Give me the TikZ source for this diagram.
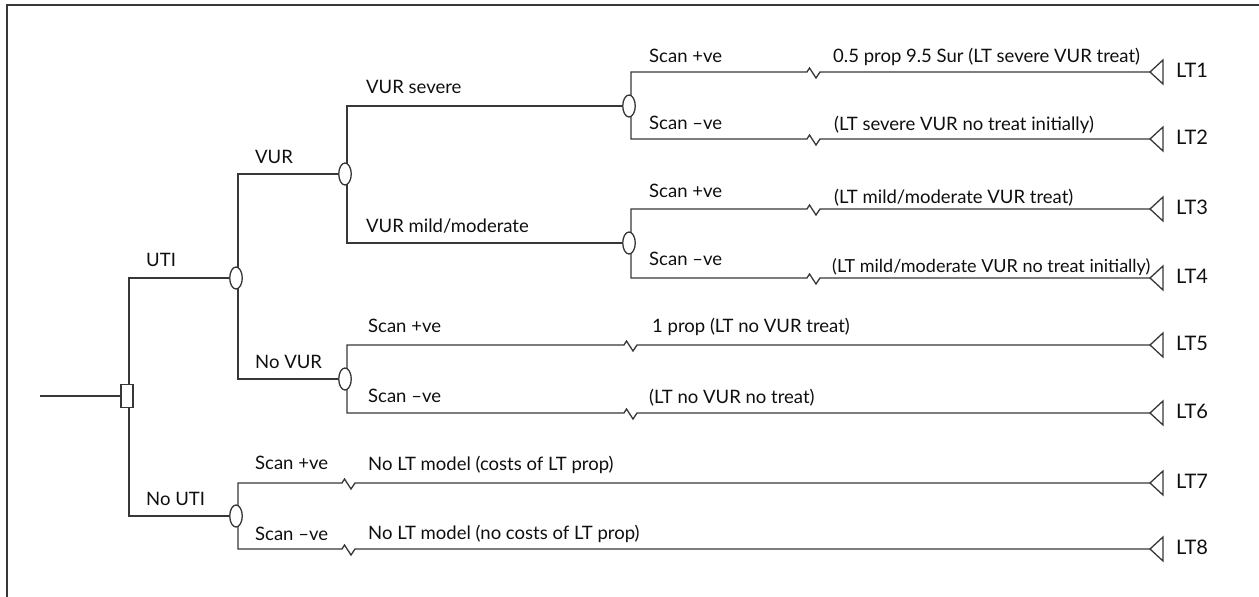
\documentclass[tikz,border=0pt]{standalone}
\usepackage{fontspec}
\setmainfont{Lato}
\usetikzlibrary{shapes.geometric}
\pgfdeclarelayer{bg}
\pgfsetlayers{bg,main}
\definecolor{linec}{RGB}{55,55,55}
\definecolor{txtc}{RGB}{15,15,15}
\begin{document}
\begin{tikzpicture}[x=1pt,y=-1pt,
  ln/.style={draw=linec, line width=1.3pt},
  chance/.style={ellipse, draw=linec, fill=white, line width=1.3pt, minimum width=12.5pt, minimum height=22pt, inner sep=0pt},
  decision/.style={rectangle, draw=linec, fill=white, line width=1.3pt, minimum width=12pt, minimum height=23pt, inner sep=0pt},
  lbl/.style={anchor=base west, inner sep=0pt, font=\fontsize{18.5}{20}\selectfont, text=txtc},
  ltl/.style={anchor=west, inner sep=0pt, font=\fontsize{20}{22}\selectfont, text=txtc},
  zz/.style={insert path={-- ++(2.5,-4) -- ++(6.5,10) -- ++(4,-6)}},
  term/.pic={\draw[ln] (0,0) -- (13,-12) -- (13,12) -- cycle;}
]
\useasboundingbox (0,0) rectangle (1259,597);
\draw[linec, line width=1.3pt] (7,597) -- (7,5) -- (1259,5);

% nodes
\coordinate (R) at (40,396);
\node[decision] (D) at (127,396) {};
\node[chance] (Cuti) at (236,278) {};
\node[chance] (Cnouti) at (236,516) {};
\node[chance] (Cvur) at (345,174) {};
\node[chance] (Cnovur) at (345,379) {};
\node[chance] (Csev) at (629,106) {};
\node[chance] (Cmild) at (629,243) {};

% terminal tips
\foreach \i/\y in {1/72,2/139,3/209,4/278,5/345,6/413,7/483,8/549}{
  \coordinate (T\i) at (1150,\y);
  \pic at (T\i) {term};
}
% break points
\coordinate (B1) at (807,72);
\coordinate (B2) at (807,139);
\coordinate (B3) at (807,209);
\coordinate (B4) at (807,278);
\coordinate (B5) at (624,345);
\coordinate (B6) at (624,413);
\coordinate (B7) at (342,483);
\coordinate (B8) at (342,549);

\begin{pgfonlayer}{bg}
\draw[ln] (R) -- (D);
\draw[ln] ([xshift=2pt]D.center) |- (Cuti);
\draw[ln] ([xshift=2pt]D.center) |- (Cnouti);
\draw[ln] ([xshift=2pt]Cuti.center) |- (Cvur);
\draw[ln] ([xshift=2pt]Cuti.center) |- (Cnovur);
\draw[ln] ([xshift=2pt]Cvur.center) |- (Csev);
\draw[ln] ([xshift=2pt]Cvur.center) |- (Cmild);
\draw[ln] ([xshift=2pt]Csev.center) |- (B1) [zz] -- (T1);
\draw[ln] ([xshift=2pt]Csev.center) |- (B2) [zz] -- (T2);
\draw[ln] ([xshift=2pt]Cmild.center) |- (B3) [zz] -- (T3);
\draw[ln] ([xshift=2pt]Cmild.center) |- (B4) [zz] -- (T4);
\draw[ln] ([xshift=2pt]Cnovur.center) |- (B5) [zz] -- (T5);
\draw[ln] ([xshift=2pt]Cnovur.center) |- (B6) [zz] -- (T6);
\draw[ln] ([xshift=2pt]Cnouti.center) |- (B7) [zz] -- (T7);
\draw[ln] ([xshift=2pt]Cnouti.center) |- (B8) [zz] -- (T8);
\end{pgfonlayer}

% branch labels
\node[lbl] (l1) at (146,266) {UTI};
\node[lbl] (l2) at (146,505) {No UTI};
\node[lbl] (l3) at (255,163) {VUR};
\node[lbl] (l4) at (255,368) {No VUR};
\node[lbl] (l5) at (366,93) {VUR severe};
\node[lbl] (l6) at (366,232) {VUR mild/moderate};
\node[lbl] (l7) at (649,62) {Scan +ve};
\node[lbl] (l8) at (649,129) {Scan –ve};
\node[lbl] (l9) at (649,197) {Scan +ve};
\node[lbl] (l10) at (649,265) {Scan –ve};
\node[lbl] (l11) at (368,332) {Scan +ve};
\node[lbl] (l12) at (368,402) {Scan –ve};
\node[lbl] (l13) at (255,469) {Scan +ve};
\node[lbl] (l14) at (255,540) {Scan –ve};
% outcome labels
\node[lbl] (o1) at (833,62) {0.5 prop 9.5 Sur (LT severe VUR treat)};
\node[lbl] (o2) at (834,130) {(LT severe VUR no treat initially)};
\node[lbl] (o3) at (834,203) {(LT mild/moderate VUR treat)};
\node[lbl, font=\fontsize{18}{20}\selectfont] (o4) at (832,272) {(LT mild/moderate VUR no treat initially)};
\node[lbl] (o5) at (652,332) {1 prop (LT no VUR treat)};
\node[lbl] (o6) at (649,403) {(LT no VUR no treat)};
\node[lbl] (o7) at (368,470) {No LT model (costs of LT prop)};
\node[lbl] (o8) at (368,539) {No LT model (no costs of LT prop)};
% terminal labels
\foreach \i/\y in {1/72,2/139,3/209,4/278,5/345,6/413,7/483,8/549}{
  \node[ltl] (L\i) at (1176,\y-2) {LT\i};
}
\end{tikzpicture}
\end{document}
